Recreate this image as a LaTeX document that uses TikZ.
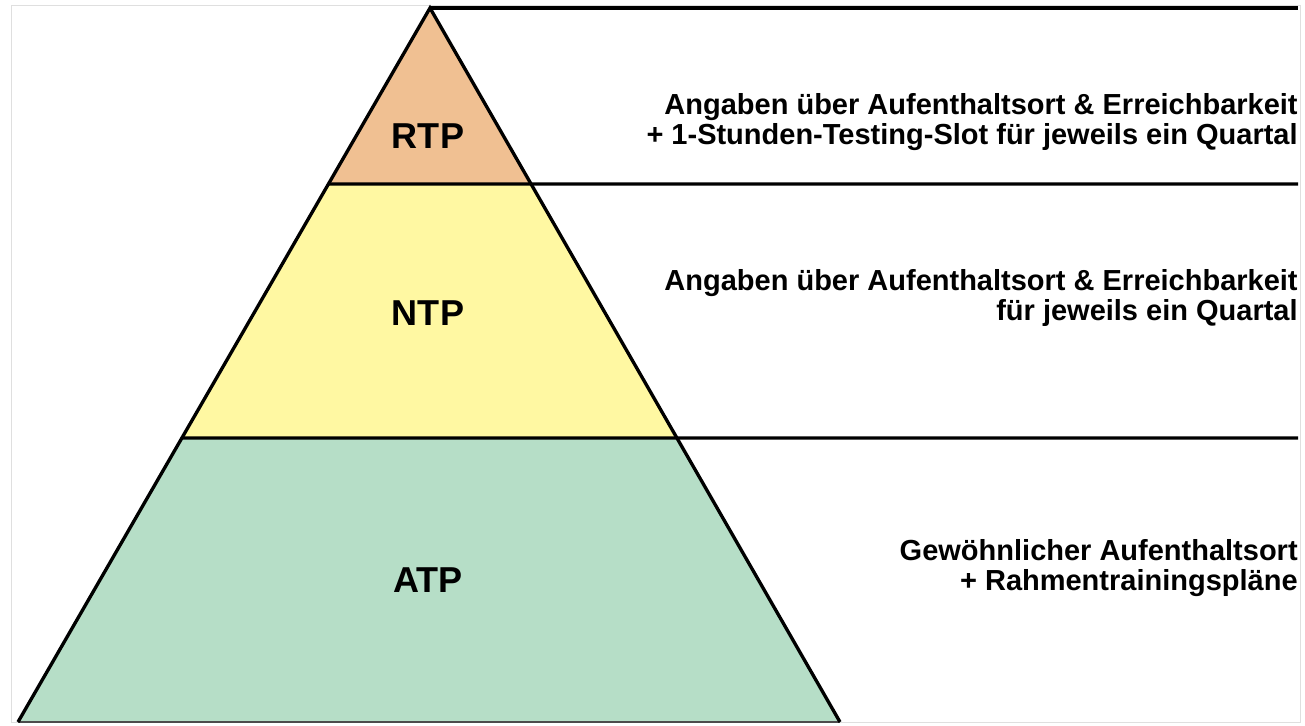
\documentclass[tikz,border=0pt]{standalone}
\usepackage{fontspec}
\setmainfont{Liberation Sans}
\usetikzlibrary{calc}

\definecolor{rtpcol}{RGB}{240,192,146}
\definecolor{ntpcol}{RGB}{255,248,162}
\definecolor{atpcol}{RGB}{182,222,199}

\begin{document}
\begin{tikzpicture}[x=0.2mm,y=-0.2mm,
    level/.style={font=\fontsize{20.5}{21}\selectfont\bfseries,inner sep=0pt},
    info/.style={anchor=east,align=right,font=\fontsize{16.5}{17.2}\selectfont\bfseries,inner sep=0pt},
    rule/.style={line width=1.9pt}]

  \useasboundingbox (0,0) rectangle (1305,725);
  \draw[gray!25] (11,5) rectangle (1300,722);

  % pyramid corners and layer borders
  \coordinate (TOP) at (430,8);
  \coordinate (BL) at (18,722);
  \coordinate (BR) at (840,722);
  \coordinate (L1) at ($(TOP)!0.2465!(BL)$);
  \coordinate (R1) at ($(TOP)!0.2465!(BR)$);
  \coordinate (L2) at ($(TOP)!0.6022!(BL)$);
  \coordinate (R2) at ($(TOP)!0.6022!(BR)$);
  \coordinate (E0) at (1298,8);
  \coordinate (E1) at (1298,184);
  \coordinate (E2) at (1298,438);

  \fill[rtpcol] (TOP) -- (L1) -- (R1) -- cycle;
  \fill[ntpcol] (L1) -- (L2) -- (R2) -- (R1) -- cycle;
  \fill[atpcol] (L2) -- (BL) -- (BR) -- (R2) -- cycle;

  \draw[gray!60!black,line width=1pt] (BL) -- (BR);
  \draw[rule] (BL) -- (TOP) -- (BR);
  \draw[rule] (TOP) -- (E0);
  \draw[rule] (L1) -- (E1);
  \draw[rule] (L2) -- (E2);

  \node[level] (RTP) at (428,136) {RTP};
  \node[level] (NTP) at (428,313) {NTP};
  \node[level] (ATP) at (428,580) {ATP};

  \node[info] (RTPTEXT) at (1298,122) {Angaben über Aufenthaltsort \& Erreichbarkeit\\+ 1-Stunden-Testing-Slot für jeweils ein Quartal};
  \node[info] (NTPTEXT) at (1298,298) {Angaben über Aufenthaltsort \& Erreichbarkeit\\für jeweils ein Quartal};
  \node[info] (ATPTEXT) at (1298,568) {Gewöhnlicher Aufenthaltsort\\+ Rahmentrainingspläne};

\end{tikzpicture}
\end{document}
